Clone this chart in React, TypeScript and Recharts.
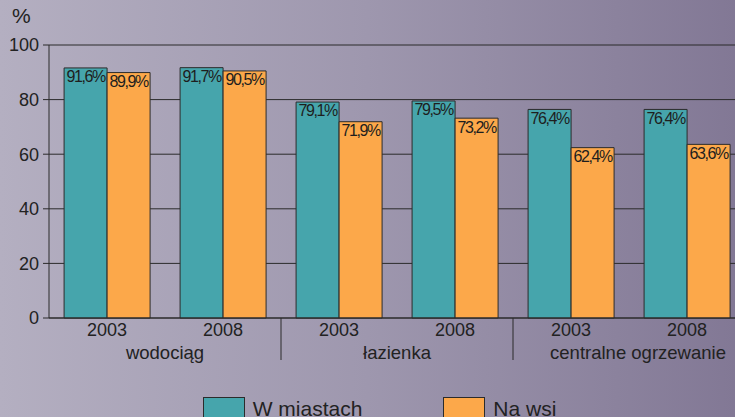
import React from 'react';
import { BarChart, Bar, XAxis, YAxis, CartesianGrid, Legend, LabelList } from 'recharts';

const years = ['2003', '2008', '2003', '2008', '2003', '2008'];
const groups = ['wodociąg', 'łazienka', 'centralne ogrzewanie'];
const cityValues = [91.6, 91.7, 79.1, 79.5, 76.4, 76.4];
const villageValues = [89.9, 90.5, 71.9, 73.2, 62.4, 63.6];
const yTicks = [0, 20, 40, 60, 80, 100];

const data = years.map((year, i) => ({
  year,
  city: cityValues[i],
  village: villageValues[i],
}));

const CHART_W = 745;
const CHART_H = 430;
const Y_AXIS_W = 49;
const BAND = (CHART_W - Y_AXIS_W) / years.length;

const TEAL = '#46a5ac';
const ORANGE = '#fca84a';
const DARK = '#2b2b2b';
const FONT = '"Liberation Sans", Arial, sans-serif';

const fmt = (v: any) => Number(v).toFixed(1).replace('.', ',') + '%';

function XTick(props: any) {
  const { x, y, payload, index } = props;
  const second = index % 2 === 1;
  const last = index === years.length - 1;
  return (
    <g>
      <text x={x} y={y + 18} textAnchor="middle" fontSize={18} fill="#222" fontFamily={FONT}>
        {payload.value}
      </text>
      {second && (
        <text
          x={x - BAND / 2 + (last ? 9 : 0)}
          y={y + 41}
          textAnchor="middle"
          fontSize={18.5}
          fill="#222"
          fontFamily={FONT}
        >
          {groups[(index - 1) / 2]}
        </text>
      )}
      {second && !last && (
        <line x1={x + BAND / 2} x2={x + BAND / 2} y1={y} y2={y + 42} stroke={DARK} strokeWidth={1} />
      )}
    </g>
  );
}

function LegendBox() {
  const item = (color: string, text: string) => (
    <div style={{ display: 'flex', alignItems: 'center' }}>
      <div style={{ width: 42, height: 23, background: color, border: `1px solid ${DARK}`, boxSizing: 'border-box' }} />
      <span style={{ marginLeft: 8, fontSize: 21, lineHeight: '23px', color: '#222', fontFamily: FONT }}>{text}</span>
    </div>
  );
  return (
    <div style={{ display: 'flex', justifyContent: 'center', paddingTop: 29, paddingLeft: 14, gap: 81 }}>
      {item(TEAL, 'W miastach')}
      {item(ORANGE, 'Na wsi')}
    </div>
  );
}

export default function App() {
  const labelStyle = { fontSize: 16, letterSpacing: -1.4, fill: '#1e1e1e', fontFamily: FONT };
  return (
    <div
      style={{
        position: 'fixed',
        left: 0,
        top: 0,
        width: 735,
        height: 417,
        overflow: 'hidden',
        background: 'linear-gradient(to right, #b4afc1 0%, #9e97ae 50%, #827895 100%)',
        fontFamily: FONT,
      }}
    >
      <div style={{ position: 'absolute', left: 12, top: 4, fontSize: 21, color: '#222' }}>%</div>
      <BarChart
        width={CHART_W}
        height={CHART_H}
        data={data}
        margin={{ top: 45, right: 0, left: 0, bottom: 0 }}
        barCategoryGap="13%"
        barGap={0}
      >
        <CartesianGrid vertical={false} stroke={DARK} horizontalValues={yTicks} />
        <XAxis
          dataKey="year"
          height={50}
          tickLine={false}
          tickSize={0}
          tickMargin={0}
          axisLine={{ stroke: DARK }}
          tick={<XTick />}
          interval={0}
        />
        <YAxis
          width={Y_AXIS_W}
          domain={[0, 100]}
          ticks={yTicks}
          tickSize={6}
          tickMargin={4}
          axisLine={{ stroke: DARK }}
          tickLine={{ stroke: DARK }}
          tick={{ fontSize: 18, fill: '#222', fontFamily: FONT }}
        />
        <Legend verticalAlign="bottom" height={62} content={<LegendBox />} />
        <Bar dataKey="city" fill={TEAL} stroke={DARK} strokeWidth={1} isAnimationActive={false}>
          <LabelList dataKey="city" position="insideTop" formatter={fmt} style={labelStyle} offset={3} />
        </Bar>
        <Bar dataKey="village" fill={ORANGE} stroke={DARK} strokeWidth={1} isAnimationActive={false}>
          <LabelList dataKey="village" position="insideTop" formatter={fmt} style={labelStyle} offset={3} />
        </Bar>
      </BarChart>
    </div>
  );
}
